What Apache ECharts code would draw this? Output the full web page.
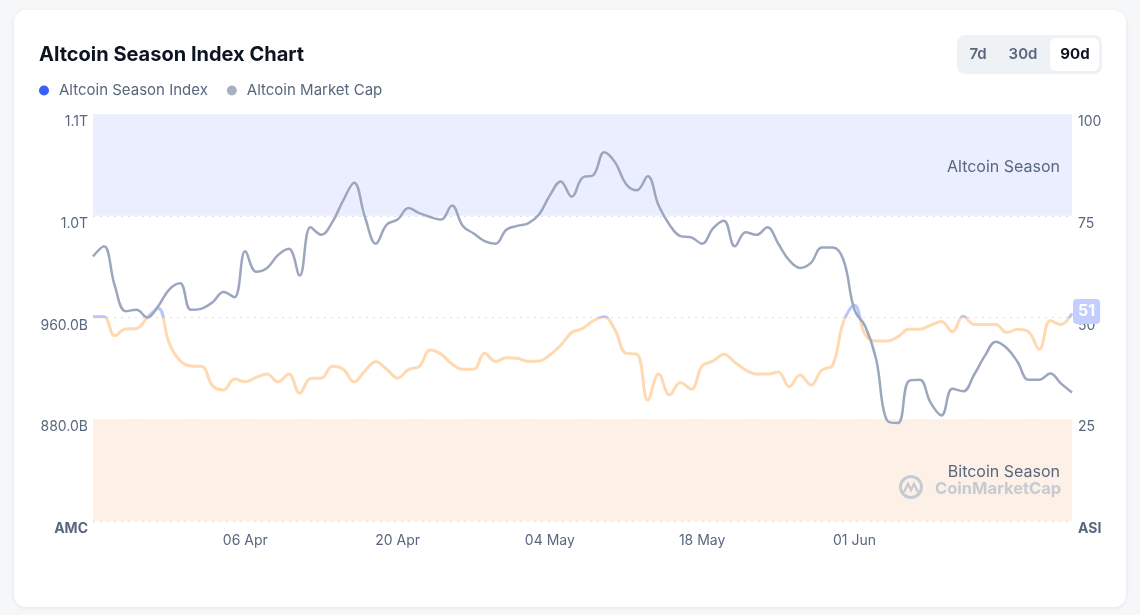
<!DOCTYPE html>
<html>
<head>
<meta charset="utf-8">
<script src="https://cdn.jsdelivr.net/npm/echarts@6/dist/echarts.min.js"></script>
<style>
    body { margin: 0; background: #f6f7f9; font-family: Inter, sans-serif; }
    #card { position: absolute; left: 14px; top: 10px; width: 1112px; height: 597px; background: #fff; border-radius: 12px; box-shadow: 0 1px 4px rgba(20, 30, 60, 0.08); }
    #chart { position: absolute; left: 0; top: 0; width: 1140px; height: 615px; }
</style>
</head>
<body>
<div id="card"></div>
<div id="chart"></div>
<script>
// daily points, 23 Mar -> 21 Jun
const startDate = new Date(2025, 2, 23);
const dayCount = 91;
const xTickLabels = ['06 Apr', '20 Apr', '04 May', '18 May', '01 Jun'];

// Altcoin Season Index (0-100)
const seasonIndex = [
    50.2, 50.2, 45.5, 47.2, 47.3, 50, 52.3, 43.7, 39.4, 38.1,
    38, 33.2, 32.2, 34.9, 34.2, 35.3, 36.1, 34.2, 36.1, 31.4,
    35, 35.1, 38, 37.3, 34.2, 36.9, 39.1, 37.3, 35.1, 37.2,
    38, 42, 41, 38.6, 37.3, 37.3, 41.2, 39.2, 40.1, 40,
    39.2, 39.3, 40.8, 43.2, 46.3, 47.3, 49.2, 50.2, 46.9, 41.2,
    41, 29.7, 36.1, 31, 34, 32.4, 38.1, 39.3, 41, 39,
    37.1, 36.1, 36.1, 36.6, 33, 35.9, 33.4, 37.1, 38.3, 49,
    53, 45.7, 44.2, 44.2, 45.3, 47.1, 47.1, 48.1, 49, 46.5,
    50.3, 48.3, 48.3, 48.3, 46.3, 47.1, 46.5, 42.2, 49.2, 48.3,
    51
];

// Altcoin Market Cap, billions USD
const marketCap = [
    1008, 1016, 985, 965, 966, 960, 969, 982, 987, 966,
    967, 972, 980, 976, 1012, 996, 999, 1009, 1014, 993,
    1031, 1025, 1035, 1052, 1066, 1039, 1018, 1033, 1037, 1046,
    1042, 1039, 1037, 1048, 1032, 1026, 1020, 1018, 1029, 1032,
    1034, 1041, 1056, 1067, 1055, 1070, 1072, 1090, 1082, 1065,
    1060, 1071, 1048, 1033, 1024, 1023, 1018, 1030, 1036, 1016,
    1027, 1025, 1031, 1018, 1005, 999, 1003, 1015, 1015, 1005,
    966, 953, 927, 879, 877, 910, 911, 893, 883, 904,
    902, 915, 930, 941, 936, 925, 911, 911, 916, 908,
    901
];

const months = ['Jan', 'Feb', 'Mar', 'Apr', 'May', 'Jun', 'Jul', 'Aug', 'Sep', 'Oct', 'Nov', 'Dec'];
let dates = [];
for (let i = 0; i < dayCount; i++) {
    let d = new Date(startDate.getTime() + i * 86400000);
    let day = d.getDate();
    dates.push((day < 10 ? '0' + day : day) + ' ' + months[d.getMonth()]);
}

const textColor = '#58667e';
const markColor = '#c6cad2';
let myChart = echarts.init(document.getElementById('chart'));

myChart.setOption({
    title: {
        text: 'Altcoin Season Index Chart',
        left: 34,
        top: 40,
        textStyle: { fontFamily: 'Inter', fontSize: 20, fontWeight: 'bold', color: '#0d1421' }
    },
    legend: {
        left: 34,
        top: 78,
        icon: 'circle',
        itemWidth: 20,
        itemHeight: 10,
        itemGap: 19,
        textStyle: { fontFamily: 'Inter', fontSize: 15, color: textColor },
        data: [
            { name: 'Altcoin Season Index', itemStyle: { color: '#3861fb' } },
            { name: 'Altcoin Market Cap', itemStyle: { color: '#a6b0c3' } }
        ]
    },
    grid: { left: 93, right: 68, top: 114, bottom: 94 },
    visualMap: {
        show: false,
        seriesIndex: 0,
        pieces: [
            { gt: 50, lte: 100, color: '#b9c5ff' },
            { gte: 0, lte: 50, color: '#fed9b1' }
        ],
        outOfRange: { color: '#fed9b1' }
    },
    xAxis: {
        type: 'category',
        data: dates,
        boundaryGap: false,
        axisLine: { show: false },
        axisTick: { show: false },
        axisLabel: {
            interval: function (i, v) { return xTickLabels.indexOf(v) >= 0; },
            color: textColor,
            fontFamily: 'Inter',
            fontSize: 14,
            margin: 13
        }
    },
    yAxis: [
        {
            type: 'value',
            min: 800,
            max: 1120,
            interval: 80,
            splitLine: { show: false },
            axisLabel: {
                color: textColor,
                fontFamily: 'Inter',
                fontSize: 14,
                lineHeight: 16,
                margin: 5,
                verticalAlign: 'top',
                formatter: function (v) {
                    if (v === 800) return '{b|AMC}';
                    return v >= 1000 ? (v / 1000).toFixed(1) + 'T' : v.toFixed(1) + 'B';
                },
                rich: { b: { fontWeight: 'bold', fontSize: 14, lineHeight: 16, color: textColor, fontFamily: 'Inter' } }
            }
        },
        {
            type: 'value',
            min: 0,
            max: 100,
            interval: 25,
            splitLine: { show: true, lineStyle: { color: '#dde1e8', type: [2, 5], width: 1 } },
            axisLabel: {
                color: textColor,
                fontFamily: 'Inter',
                fontSize: 14,
                lineHeight: 16,
                margin: 6,
                verticalAlign: 'top',
                formatter: function (v) {
                    return v === 0 ? '{b|ASI}' : String(v);
                },
                rich: { b: { fontWeight: 'bold', fontSize: 14, lineHeight: 16, color: textColor, fontFamily: 'Inter' } }
            }
        }
    ],
    series: [
        {
            name: 'Altcoin Season Index',
            type: 'line',
            yAxisIndex: 1,
            data: seasonIndex,
            smooth: 0.4,
            symbol: 'none',
            z: 3,
            lineStyle: { width: 3 },
            itemStyle: { color: '#3861fb' },
            endLabel: {
                show: true,
                distance: 1,
                offset: [0, -2],
                formatter: function (p) { return Math.round(p.value); },
                color: '#fff',
                fontFamily: 'Inter',
                fontWeight: 'bold',
                fontSize: 16,
                backgroundColor: '#c3cdff',
                padding: [5, 5, 4, 5],
                borderRadius: 4
            },
            markArea: {
                silent: true,
                data: [
                    [
                        {
                            yAxis: 75,
                            itemStyle: { color: '#ebeefe' },
                            label: { show: true, position: 'insideRight', offset: [-7, 2], color: textColor, fontFamily: 'Inter', fontSize: 16, formatter: 'Altcoin Season' }
                        },
                        { yAxis: 100 }
                    ],
                    [
                        {
                            yAxis: 0,
                            itemStyle: { color: '#fdf1e7' },
                            label: { show: true, position: 'insideRight', offset: [-7, 2], color: textColor, fontFamily: 'Inter', fontSize: 16, formatter: 'Bitcoin Season' }
                        },
                        { yAxis: 25 }
                    ]
                ]
            }
        },
        {
            name: 'Altcoin Market Cap',
            type: 'line',
            yAxisIndex: 0,
            data: marketCap,
            smooth: 0.4,
            symbol: 'none',
            z: 4,
            lineStyle: { width: 2.5, color: '#9ca7bf' },
            itemStyle: { color: '#9ca7bf' }
        }
    ],
    graphic: [
        // range switch
        { type: 'rect', shape: { x: 957, y: 35, width: 145, height: 39, r: 8 }, style: { fill: '#eff2f5' } },
        { type: 'rect', shape: { x: 1050, y: 38, width: 49, height: 33, r: 6 }, style: { fill: '#ffffff' } },
        { type: 'text', x: 978, y: 54, style: { text: '7d', fill: textColor, font: '600 15px Inter', align: 'center', verticalAlign: 'middle' } },
        { type: 'text', x: 1023, y: 54, style: { text: '30d', fill: textColor, font: '600 15px Inter', align: 'center', verticalAlign: 'middle' } },
        { type: 'text', x: 1075, y: 54, style: { text: '90d', fill: '#0d1421', font: 'bold 15px Inter', align: 'center', verticalAlign: 'middle' } },
        // watermark, drawn over the bitcoin band
        { type: 'circle', z: 60, shape: { cx: 911, cy: 487, r: 10.5 }, style: { fill: 'transparent', stroke: markColor, lineWidth: 3 } },
        { type: 'polyline', z: 60, shape: { points: [[904, 492], [908, 484], [911, 490], [914, 484], [918, 492]] }, style: { fill: 'transparent', stroke: markColor, lineWidth: 2.5 } },
        { type: 'text', z: 60, x: 935, y: 489, style: { text: 'CoinMarketCap', fill: markColor, font: 'bold 16.5px Inter', verticalAlign: 'middle' } }
    ]
});
</script>
</body>
</html>
